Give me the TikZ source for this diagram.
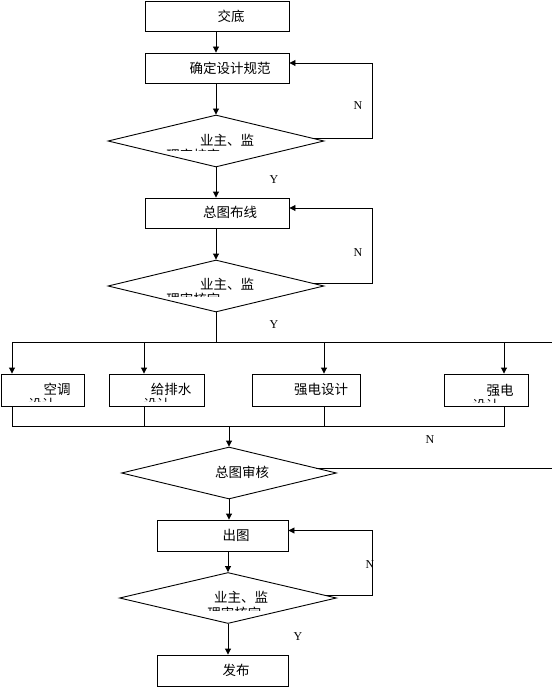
\documentclass[tikz,border=0pt]{standalone}
\usepackage{fontspec}
\setmainfont{Liberation Serif}
\newfontfamily\cjk{Noto Sans CJK SC}
\usetikzlibrary{arrows.meta,shapes.geometric,calc}
\begin{document}
\begin{tikzpicture}[x=1pt,y=-1pt,line width=0.9pt,
  shapebox/.style={draw,rectangle,inner sep=0pt},
  dia/.style={draw,diamond,inner sep=0pt,minimum width=216,minimum height=52},
  ct/.style={inner sep=0pt,font=\cjk\fontsize{13.5}{15}\selectfont},
  yn/.style={inner sep=0pt,font=\fontsize{12}{14}\selectfont},
  arr/.style={-{Triangle[length=6pt,width=6pt]}}]
\useasboundingbox (0,0) rectangle (552,687);

% boxes
\node[shapebox,minimum width=144,minimum height=30] (b1) at (217,16) {};
\node[shapebox,minimum width=144,minimum height=30] (b2) at (217,68) {};
\node[dia] (d1) at (216,141) {};
\node[shapebox,minimum width=144,minimum height=30] (b3) at (217,213) {};
\node[dia] (d2) at (216,286) {};
\node[shapebox,minimum width=83,minimum height=32] (k1) at (42.5,390) {};
\node[shapebox,minimum width=95,minimum height=32] (k2) at (156.5,390) {};
\node[shapebox,minimum width=108,minimum height=32] (k3) at (306,390) {};
\node[shapebox,minimum width=84,minimum height=32] (k4) at (486,390) {};
\node[dia,minimum width=215] (d3) at (229,473) {};
\node[shapebox,minimum width=131,minimum height=31] (b5) at (222.5,535.5) {};
\node[dia,minimum width=217,minimum height=51] (d4) at (228,598) {};
\node[shapebox,minimum width=131,minimum height=31] (b6) at (222.5,670.5) {};

% texts
\node[ct] (t1) at (231,16) {交底};
\node[ct] (t2) at (230,68) {确定设计规范};
\node[ct] (t3) at (227,140) {业主、监};
\node[ct] (t4) at (230,212) {总图布线};
\node[ct] (t5) at (227,284) {业主、监};
\node[ct] (t6) at (57,389) {空调};
\node[ct] (t7) at (171,389) {给排水};
\node[ct] (t8) at (321,389) {强电设计};
\node[ct] (t9) at (500,390) {强电};
\node[ct] (t10) at (242,472) {总图审核};
\node[ct] (t11) at (236,535) {出图};
\node[ct] (t12) at (241,597) {业主、监};
\node[ct] (t13) at (236,670) {发布};

% clipped second lines
\begin{scope}\clip (150,140) rectangle (300,151);
\node[ct,anchor=west] (s1) at (166,155) {理审核定};\end{scope}
\begin{scope}\clip (150,285) rectangle (300,296);
\node[ct,anchor=west] (s2) at (166,299) {理审核定};\end{scope}
\begin{scope}\clip (190,598) rectangle (320,610);
\node[ct,anchor=west] (s3) at (207,613) {理审核定};\end{scope}
\begin{scope}\clip (10,390) rectangle (80,401);
\node[ct,anchor=west] (s4) at (28,404) {设计};\end{scope}
\begin{scope}\clip (120,390) rectangle (200,401);
\node[ct,anchor=west] (s5) at (143,404) {设计};\end{scope}
\begin{scope}\clip (450,390) rectangle (525,402);
\node[ct,anchor=west] (s6) at (472,405) {设计};\end{scope}

% Y / N labels
\node[yn] (n1) at (358,106) {N};
\node[yn] (y1) at (274,180) {Y};
\node[yn] (n2) at (358,253) {N};
\node[yn] (y2) at (274,325) {Y};
\node[yn] (n3) at (430,440) {N};
\node[yn] (n4) at (370,565) {N};
\node[yn] (y3) at (298,637) {Y};

% helper coordinates
\coordinate (fbx) at (372,0);
\coordinate (bus1) at (12,342);
\coordinate (bus2) at (144,342);
\coordinate (bus3) at (324,342);
\coordinate (bus4) at (504,342);
\coordinate (busR) at (552,342);
\coordinate (col1) at (12,426);
\coordinate (col2) at (144,426);
\coordinate (col3) at (324,426);
\coordinate (col4) at (504,426);
\coordinate (edgeR) at (552,468);

% main flow
\draw[arr] (b1.south -| d1.north) -- (d1.north |- b2.north);
\draw[arr] (b2.south -| d1.north) -- (d1.north);
\draw[arr] (d1.south) -- (d1.south |- b3.north);
\draw[arr] (b3.south -| d2.north) -- (d2.north);
\draw (d2.south) -- (d2.south |- bus1);

% feedback loops
\coordinate (f1) at ($(d1.east)!0.1!(d1.north)$);
\coordinate (e1) at ($(b2.east)+(0,-5)$);
\draw[arr] (f1) -- (f1 -| fbx) |- (e1);
\coordinate (f2) at ($(d2.east)!0.11!(d2.north)$);
\coordinate (e2) at ($(b3.east)+(0,-5)$);
\draw[arr] (f2) -- (f2 -| fbx) |- (e2);
\coordinate (f4) at ($(d4.east)!0.11!(d4.north)$);
\coordinate (e4) at ($(b5.east)+(0,-5)$);
\draw[arr] (f4) -- (f4 -| fbx) |- (e4);

% distribution bus
\draw (bus1) -- (busR);
\draw[arr] (bus1) -- (bus1 |- k1.north);
\draw[arr] (bus2) -- (bus2 |- k2.north);
\draw[arr] (bus3) -- (bus3 |- k3.north);
\draw[arr] (bus4) -- (bus4 |- k4.north);

% collection bus
\draw (col1 |- k1.south) -- (col1) -- (col4) -- (col4 |- k4.south);
\draw (col2 |- k2.south) -- (col2);
\draw (col3 |- k3.south) -- (col3);
\draw[arr] (col1 -| d3.north) -- (d3.north);

% review line to the right edge
\coordinate (f3) at ($(d3.east)!0.19!(d3.north)$);
\draw (f3) -- (f3 -| edgeR);

\draw[arr] (d3.south) -- (d3.south |- b5.north);
\draw[arr] (b5.south -| d4.north) -- (d4.north);
\draw[arr] (d4.south) -- (d4.south |- b6.north);
\end{tikzpicture}
\end{document}
